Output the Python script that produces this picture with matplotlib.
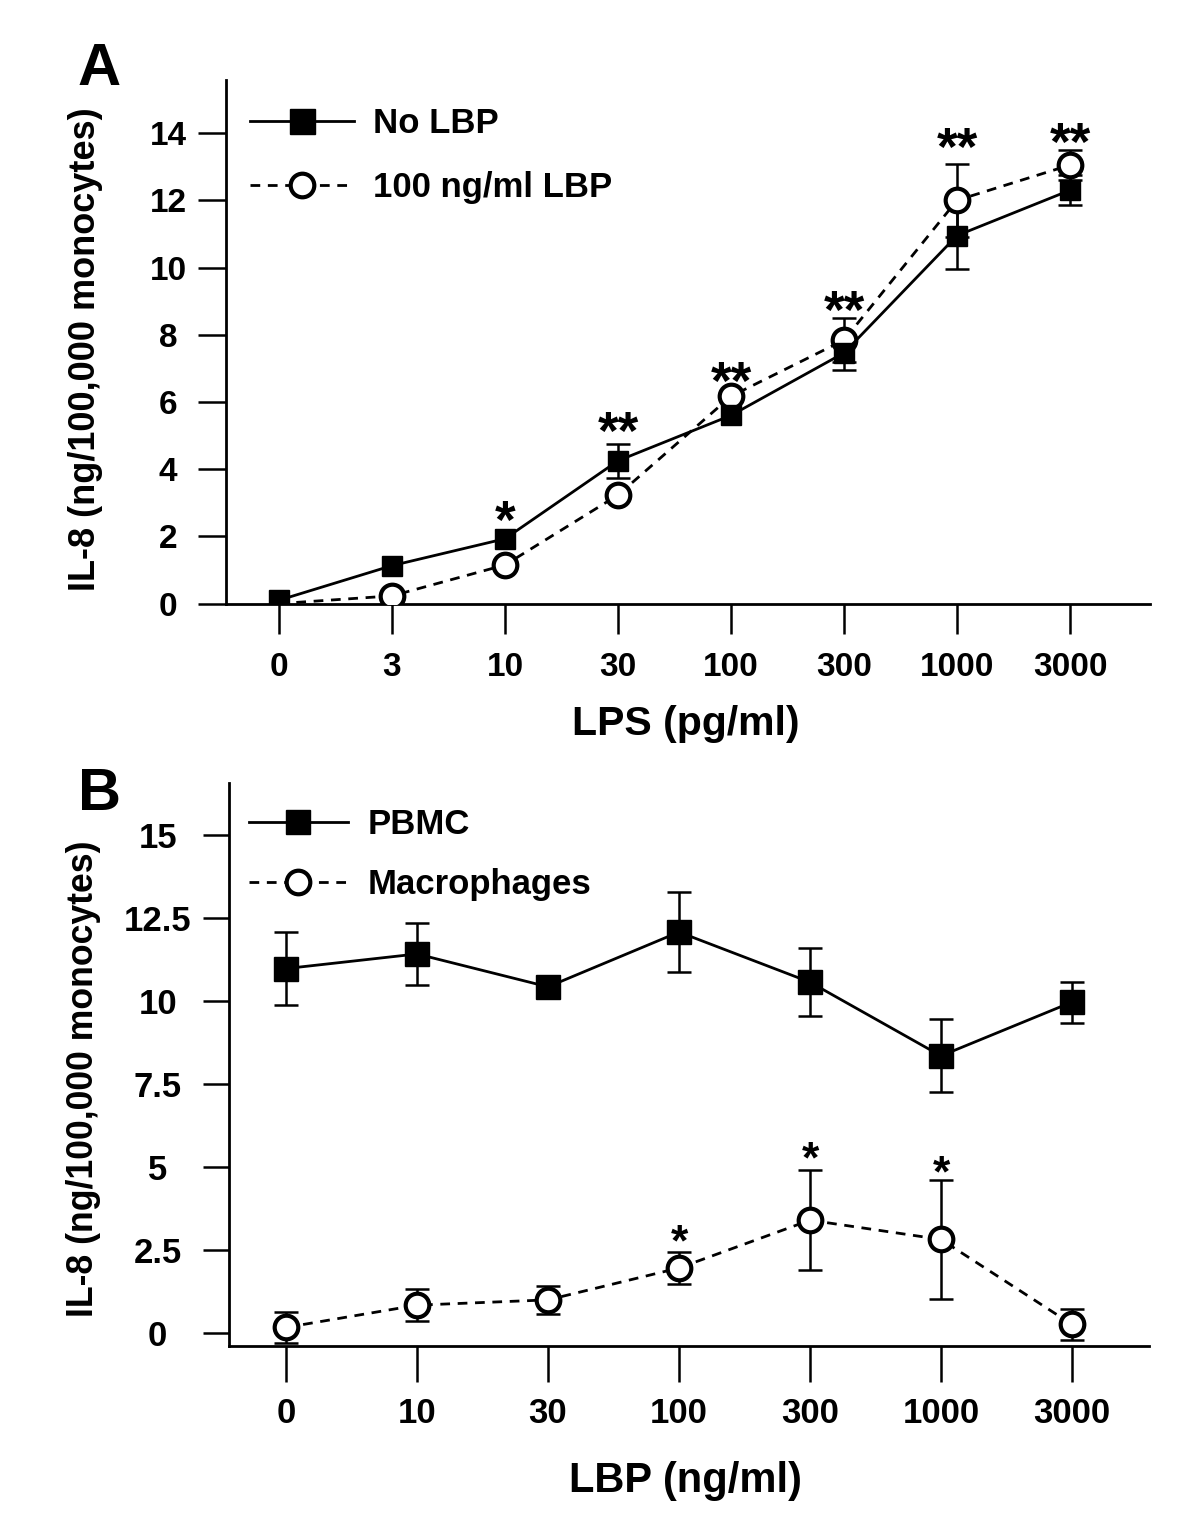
import matplotlib
matplotlib.use('Agg')
import matplotlib.pyplot as plt
from matplotlib.lines import Line2D

plt.rcParams['font.family'] = ['Liberation Sans', 'DejaVu Sans']
plt.rcParams['font.weight'] = 'bold'
plt.rcParams['lines.scale_dashes'] = False

# ---------------- Panel A data ----------------
lps_labels = ['0', '3', '10', '30', '100', '300', '1000', '3000']
no_lbp = [0.1, 1.13, 1.93, 4.25, 5.6, 7.46, 10.95, 12.3]
no_lbp_err = [0, 0, 0, 0.5, 0, 0.5, 1.0, 0.45]
lbp100 = [0.0, 0.23, 1.15, 3.23, 6.17, 7.84, 12.0, 13.05]
lbp100_err = [0, 0, 0, 0, 0, 0.65, 1.08, 0.45]
sig_a = ['', '', '*', '**', '**', '**', '**', '**']
sig_a_y = [0, 0, 2.7, 5.34, 6.83, 8.94, 13.79, 13.94]

# ---------------- Panel B data ----------------
lbp_labels = ['0', '10', '30', '100', '300', '1000', '3000']
pbmc = [10.98, 11.42, 10.43, 12.08, 10.57, 8.35, 9.97]
pbmc_err = [1.1, 0.94, 0, 1.2, 1.02, 1.1, 0.62]
macro = [0.17, 0.84, 1.0, 1.96, 3.4, 2.82, 0.26]
macro_err = [0.47, 0.48, 0.43, 0.47, 1.51, 1.79, 0.47]
sig_b = ['', '', '', '*', '*', '*', '']
sig_b_y = [0, 0, 0, 2.96, 5.45, 5.04, 0]

yticks_b = [0, 2.5, 5, 7.5, 10, 12.5, 15]
yticklabels_b = ['0', '2.5', '5', '7.5', '10', '12.5', '15']

DASH = (0, (7, 5.5))
LW = 2.0

fig = plt.figure(figsize=(12, 15.24), dpi=100)
axA = fig.add_axes([226 / 1200, 1 - 603.6 / 1524, 924 / 1200, 523.6 / 1524])
axB = fig.add_axes([229 / 1200, 1 - 1346 / 1524, 920 / 1200, 563 / 1524])


def errbars(ax, x, y, e, z):
    xs = [xi for xi, ei in zip(x, e) if ei > 0]
    ys = [yi for yi, ei in zip(y, e) if ei > 0]
    es = [ei for ei in e if ei > 0]
    ax.errorbar(xs, ys, yerr=es, fmt='none', ecolor='k', elinewidth=1.8,
                capsize=8.3, capthick=1.8, zorder=z)


def stars(ax, x, labels, ys, fs):
    for xi, s, yi in zip(x, labels, ys):
        if s:
            ax.annotate(s, xy=(xi, yi), xytext=(0, -0.57 * fs + 3.6),
                        textcoords='offset points', ha='center',
                        va='baseline', fontsize=fs, fontweight='bold')


def style(ax):
    for s in ['top', 'right']:
        ax.spines[s].set_visible(False)
    for s in ['left', 'bottom']:
        ax.spines[s].set_linewidth(2)


# ---------------- Panel A ----------------
xa = list(range(len(lps_labels)))
errbars(axA, xa, no_lbp, no_lbp_err, 2)
errbars(axA, xa, lbp100, lbp100_err, 2)
axA.plot(xa, lbp100, color='k', lw=LW, ls=DASH, marker='o', ms=17,
         mfc='white', mec='k', mew=3, markevery=list(range(1, len(xa))), zorder=3)
axA.plot(xa, no_lbp, color='k', lw=LW, ls='-', marker='s', ms=14,
         mfc='k', mec='k', mew=1, zorder=4)
stars(axA, xa, sig_a, sig_a_y, 38)

axA.set_xlim(-0.469, 7.708)
axA.set_ylim(0, 15.58)
axA.set_xticks(xa)
axA.set_xticklabels(lps_labels)
axA.set_yticks(list(range(0, 15, 2)))
axA.tick_params(axis='y', direction='out', length=20, width=1.8, pad=21.6, labelsize=24)
axA.tick_params(axis='x', direction='out', length=21.6, width=1.8, pad=13, labelsize=24)
for lbl in axA.get_yticklabels():
    lbl.set_horizontalalignment('center')
style(axA)

axA.set_xlabel('LPS (pg/ml)', fontsize=29.5, fontweight='bold')
axA.xaxis.set_label_coords(0.498, -0.194)
axA.set_ylabel('IL-8 (ng/100,000 monocytes)', fontsize=26, fontweight='bold')
axA.yaxis.set_label_coords(-0.133, 0.486)

hA = [Line2D([], [], color='k', lw=LW, ls='-', marker='s', ms=18, mfc='k', mec='k', mew=1),
      Line2D([], [], color='k', lw=LW, ls=DASH, marker='o', ms=17, mfc='white', mec='k', mew=3)]
axA.legend(hA, ['No LBP', '100 ng/ml LBP'], loc='upper left', bbox_to_anchor=(0.026, 0.9485),
           frameon=False, prop={'size': 25, 'weight': 'bold'}, handlelength=3.0,
           handletextpad=0.55, labelspacing=0.9, borderpad=0, borderaxespad=0, numpoints=1)

# ---------------- Panel B ----------------
xb = list(range(len(lbp_labels)))
errbars(axB, xb, pbmc, pbmc_err, 2)
errbars(axB, xb, macro, macro_err, 2)
axB.plot(xb, macro, color='k', lw=LW, ls=DASH, marker='o', ms=17,
         mfc='white', mec='k', mew=3, zorder=3)
axB.plot(xb, pbmc, color='k', lw=LW, ls='-', marker='s', ms=17,
         mfc='k', mec='k', mew=1, zorder=4)
stars(axB, xb, sig_b, sig_b_y, 32)

axB.set_xlim(-0.435, 6.588)
axB.set_ylim(-0.39, 16.57)
axB.set_xticks(xb)
axB.set_xticklabels(lbp_labels)
axB.set_yticks(yticks_b)
axB.set_yticklabels(yticklabels_b)
axB.tick_params(axis='y', direction='out', length=19, width=1.8, pad=32.4, labelsize=25)
axB.tick_params(axis='x', direction='out', length=26, width=1.8, pad=11, labelsize=25)
for lbl in axB.get_yticklabels():
    lbl.set_horizontalalignment('center')
style(axB)

axB.set_xlabel('LBP (ng/ml)', fontsize=30, fontweight='bold')
axB.xaxis.set_label_coords(0.496, -0.204)
axB.set_ylabel('IL-8 (ng/100,000 monocytes)', fontsize=25.7, fontweight='bold')
axB.yaxis.set_label_coords(-0.139, 0.474)

hB = [Line2D([], [], color='k', lw=LW, ls='-', marker='s', ms=17, mfc='k', mec='k', mew=1),
      Line2D([], [], color='k', lw=LW, ls=DASH, marker='o', ms=17, mfc='white', mec='k', mew=3)]
axB.legend(hB, ['PBMC', 'Macrophages'], loc='upper left', bbox_to_anchor=(0.0217, 0.955),
           frameon=False, prop={'size': 25, 'weight': 'bold'}, handlelength=2.85,
           handletextpad=0.58, labelspacing=0.77, borderpad=0, borderaxespad=0, numpoints=1)

# Panel letters
fig.text(99 / 1200, 1 - 85 / 1524, 'A', fontsize=43, fontweight='bold', ha='center', va='baseline')
fig.text(100 / 1200, 1 - 810 / 1524, 'B', fontsize=43, fontweight='bold', ha='center', va='baseline')

fig.savefig('out.png', dpi=100, facecolor='white')
